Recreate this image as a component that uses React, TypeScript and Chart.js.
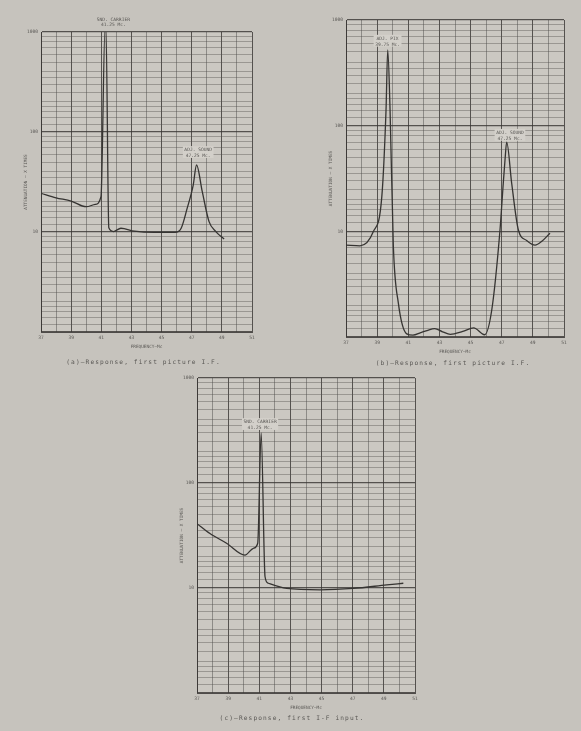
import React, { useEffect, useRef } from "react";
import { Chart, registerables } from "chart.js";

Chart.register(...registerables);

// ---------- data ----------
const xTickLabels = [37, 39, 41, 43, 45, 47, 49, 51];
const xGridLines = [37, 38, 39, 40, 41, 42, 43, 44, 45, 46, 47, 48, 49, 50, 51];
const yTickLabels = [10, 100, 1000];
const logMinor = [1, 1.2, 1.4, 1.6, 1.8, 2, 2.5, 3, 3.5, 4, 5, 6, 7, 8, 9];
const decades = [1, 10, 100];

// (a) first picture I.F.
const freqA = [37, 38, 39, 40, 40.6, 40.98, 41.25, 41.31, 41.5, 41.8, 42.3, 43.2, 44.5, 45.9, 46.3, 46.7, 47.1, 47.32, 47.7, 48.15, 48.6, 49.15];
const attA = [24.4, 22, 20.4, 17.9, 18.9, 22.5, 1100, 1100, 11, 10.1, 10.9, 10.2, 9.9, 9.9, 10.9, 17.3, 29.5, 46.8, 25.3, 12.7, 10.1, 8.5];

// (b)
const freqB = [37, 37.9, 38.75, 39.3, 39.57, 39.68, 39.83, 40.04, 40.36, 40.9, 41.3, 41.8, 42.2, 42.7, 43.2, 43.7, 44.5, 45.2, 45.9, 46.36, 46.89, 47.1, 47.21, 47.32, 47.64, 48.07, 48.6, 49.14, 49.6, 50.1];
const attB = [7.4, 7.3, 9.9, 21.3, 140, 520, 140, 7.3, 2.1, 1.07, 1.04, 1.1, 1.15, 1.2, 1.12, 1.06, 1.13, 1.22, 1.05, 1.8, 10.3, 28.5, 47, 70, 28.5, 10.3, 8.2, 7.4, 8.1, 9.6];

// (c)
const freqC = [37, 37.83, 38.9, 40.08, 40.62, 40.9, 41.12, 41.37, 41.58, 42.76, 44.9, 47.04, 49.18, 50.25];
const attC = [41, 33, 26.7, 20.6, 23.9, 26.7, 300, 12.8, 11.1, 9.9, 9.6, 9.9, 10.7, 11.1];

// peak labels: freq (centre), attenuation at label bottom, text lines
const labelsA = [
  { freq: 41.8, att: 1122, lines: ["SND. CARRIER", "41.25 Mc."], box: false },
  { freq: 47.43, att: 55, lines: ["ADJ. SOUND", "47.25 Mc."], box: true },
];
const labelsB = [
  { freq: 39.67, att: 560, lines: ["ADJ. PIX", "39.75 Mc."], box: true },
  { freq: 47.53, att: 72, lines: ["ADJ. SOUND", "47.25 Mc."], box: true },
];
const labelsC = [
  { freq: 41.05, att: 320, lines: ["SND. CARRIER", "41.25 Mc."], box: true },
];

const captionA = "(a)\u2014Response, first picture I.F.";
const captionB = "(b)\u2014Response, first picture I.F.";
const captionC = "(c)\u2014Response, first I-F input.";
const xTitle = "FREQUENCY\u2014Mc";
const yTitle = "ATTENUATION \u2014 X TIMES";

// ---------- styles ----------
const PAGE_BG = "#c6c3bd";
const PLOT_BG = "#cbc8c2";
const GRID = "rgba(80,78,75,0.5)";
const GRID_DARK = "rgba(55,53,50,0.8)";
const CURVE = "#363432";
const TEXT = "#5a5855";
const MONO = '"DejaVu Sans Mono", "Liberation Mono", monospace';

const yGridLines: number[] = [];
decades.forEach((d) => logMinor.forEach((m) => yGridLines.push(Number((m * d).toPrecision(6)))));
yGridLines.push(1000);

const peakPlugin = {
  id: "peakLabels",
  beforeDraw(chart: any) {
    const { ctx, chartArea } = chart;
    ctx.save();
    ctx.fillStyle = PLOT_BG;
    ctx.fillRect(chartArea.left, chartArea.top, chartArea.right - chartArea.left, chartArea.bottom - chartArea.top);
    ctx.restore();
  },
  afterDatasetsDraw(chart: any, _args: any, opts: any) {
    const { ctx, chartArea, scales } = chart;
    ctx.save();
    ctx.font = `4.6px ${MONO}`;
    ctx.textAlign = "center";
    ctx.textBaseline = "bottom";
    const lh = 5.4;
    (opts.labels || []).forEach((a: any) => {
      const x = scales.x.getPixelForValue(a.freq);
      const y = scales.y.getPixelForValue(a.att);
      if (a.box) {
        const w = Math.max(...a.lines.map((l: string) => ctx.measureText(l).width)) + 3;
        ctx.fillStyle = "#d3d0ca";
        ctx.fillRect(x - w / 2, y - lh * a.lines.length - 1, w, lh * a.lines.length + 1);
      }
      ctx.fillStyle = TEXT;
      a.lines.forEach((l: string, i: number) => {
        ctx.fillText(l, x, y - lh * (a.lines.length - 1 - i));
      });
    });
    if (opts.caption) {
      ctx.font = `6.2px ${MONO}`;
      (ctx as any).letterSpacing = "1.1px";
      ctx.fillStyle = TEXT;
      ctx.textBaseline = "middle";
      const cx = (chartArea.left + chartArea.right) / 2 + (opts.captionDx || 0);
      ctx.fillText(opts.caption, cx, chartArea.bottom + opts.captionDy);
    }
    ctx.restore();
  },
};

type PanelCfg = {
  left: number;
  top: number;
  w: number;
  h: number;
  pad: { left: number; top: number; right: number; bottom: number };
  freq: number[];
  att: number[];
  labels: any[];
  caption: string;
  captionDy: number;
  captionDx: number;
};

function Panel({ cfg }: { cfg: PanelCfg }) {
  const ref = useRef<HTMLCanvasElement | null>(null);
  useEffect(() => {
    if (!ref.current) return;
    const points = cfg.freq.map((f, i) => ({ x: f, y: cfg.att[i] }));
    const tickFont = { family: MONO, size: 4.6 };
    const chart = new Chart(ref.current, {
      type: "line",
      data: {
        datasets: [
          {
            data: points,
            borderColor: CURVE,
            borderWidth: 1.3,
            pointRadius: 0,
            cubicInterpolationMode: "monotone",
            fill: false,
          },
        ],
      },
      options: {
        animation: false,
        responsive: false,
        maintainAspectRatio: false,
        devicePixelRatio: 1,
        layout: { padding: cfg.pad },
        plugins: {
          legend: { display: false },
          tooltip: { enabled: false },
          peakLabels: { labels: cfg.labels, caption: cfg.caption, captionDy: cfg.captionDy, captionDx: cfg.captionDx },
        } as any,
        scales: {
          x: {
            type: "linear",
            min: 37,
            max: 51,
            afterFit: (s: any) => {
              s.height = 18;
            },
            afterBuildTicks: (s: any) => {
              s.ticks = xGridLines.map((v) => ({ value: v }));
            },
            ticks: {
              autoSkip: false,
              maxRotation: 0,
              padding: 3,
              font: tickFont,
              color: TEXT,
              callback: (v: any) => (xTickLabels.includes(Number(v)) ? String(v) : ""),
            },
            grid: {
              drawTicks: false,
              color: (c: any) => (xTickLabels.includes(c.tick?.value) ? GRID_DARK : GRID),
              lineWidth: 1,
            },
            border: { display: true, color: GRID_DARK, width: 1 },
            title: { display: true, text: xTitle, font: { family: MONO, size: 4.4 }, color: TEXT, padding: { top: 0, bottom: 1 } },
          },
          y: {
            type: "logarithmic",
            min: 1,
            max: 1000,
            afterFit: (s: any) => {
              s.width = 18;
            },
            afterBuildTicks: (s: any) => {
              s.ticks = yGridLines.map((v) => ({ value: v }));
            },
            ticks: {
              autoSkip: false,
              padding: 3,
              font: tickFont,
              color: TEXT,
              callback: (v: any) => (yTickLabels.includes(Number(v)) ? String(v) : ""),
            },
            grid: {
              drawTicks: false,
              color: (c: any) => {
                const v = c.tick?.value;
                return [1, 10, 100, 1000].includes(v) ? GRID_DARK : GRID;
              },
              lineWidth: (c: any) => ([1, 10, 100, 1000].includes(c.tick?.value) ? 1.2 : 0.8),
            },
            border: { display: true, color: GRID_DARK, width: 1 },
            title: { display: true, text: yTitle, font: { family: MONO, size: 4.4 }, color: TEXT, padding: { top: 0, bottom: 0 } },
          },
        },
      } as any,
      plugins: [peakPlugin as any],
    });
    return () => chart.destroy();
  }, [cfg]);
  return (
    <canvas
      ref={ref}
      width={cfg.w}
      height={cfg.h}
      style={{ position: "absolute", left: cfg.left, top: cfg.top, width: cfg.w, height: cfg.h }}
    />
  );
}

const panelA: PanelCfg = {
  left: 10, top: 8, w: 256, h: 368,
  pad: { left: 13, top: 24, right: 14, bottom: 26 },
  freq: freqA, att: attA, labels: labelsA, caption: captionA, captionDy: 30, captionDx: -3,
};
const panelB: PanelCfg = {
  left: 305, top: 5, w: 272, h: 370,
  pad: { left: 23, top: 15, right: 13, bottom: 20 },
  freq: freqB, att: attB, labels: labelsB, caption: captionB, captionDy: 26, captionDx: -2,
};
const panelC: PanelCfg = {
  left: 158, top: 365, w: 272, h: 365,
  pad: { left: 21, top: 13, right: 15, bottom: 19 },
  freq: freqC, att: attC, labels: labelsC, caption: captionC, captionDy: 25, captionDx: -14,
};

export default function App() {
  return (
    <div style={{ position: "absolute", left: 0, top: 0, width: 581, height: 731, background: PAGE_BG, overflow: "hidden" }}>
      <Panel cfg={panelA} />
      <Panel cfg={panelB} />
      <Panel cfg={panelC} />
    </div>
  );
}
